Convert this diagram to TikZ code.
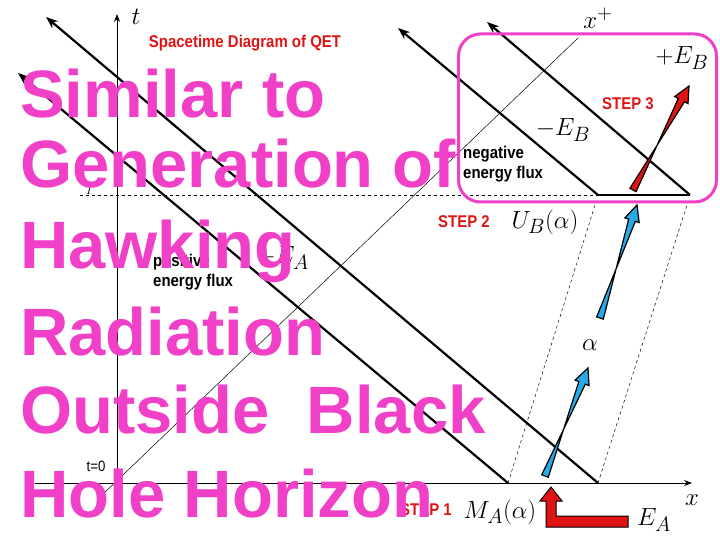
\documentclass[tikz,border=0pt]{standalone}
\usepackage{fontspec}
\setsansfont{Liberation Sans}
\newfontfamily\bigfont{Liberation Sans}
\newfontfamily\narrowfont[FakeStretch=0.88]{Liberation Sans}
\usetikzlibrary{arrows.meta,calc}
\definecolor{pinkt}{RGB}{240,64,200}
\definecolor{redt}{RGB}{225,20,20}
\definecolor{bluet}{RGB}{40,170,230}
\tikzset{
 thick line/.style={line width=2.2pt,-{Stealth[length=12pt,width=9pt]}},
 big/.style={font=\bigfont\bfseries\fontsize{67}{67}\selectfont,text=pinkt,anchor=base west,inner sep=0},
 redlab/.style={font=\narrowfont\bfseries\fontsize{17}{17}\selectfont,text=redt},
 blklab/.style={font=\narrowfont\bfseries\fontsize{17}{20}\selectfont,align=left,anchor=north west,inner sep=0},
 mlab/.style={font=\fontsize{28}{28}\selectfont},
 blockarrow/.style={draw=black,line width=1.2pt},
}
\newcommand\blockarr[3]{%
 \coordinate (hb) at ($(#2)!16pt!(#1)$);
 \filldraw[blockarrow,fill=#3] ($(#1)!3.5pt!90:(#2)$) -- ($(hb)!3.5pt!-90:(#2)$) -- ($(hb)!7.5pt!-90:(#2)$) -- (#2) -- ($(hb)!7.5pt!90:(#2)$) -- ($(hb)!3.5pt!90:(#2)$) -- ($(#1)!3.5pt!-90:(#2)$) -- cycle;}
\begin{document}
\begin{tikzpicture}[x=1pt,y=-1pt]
\useasboundingbox (0,0) rectangle (720,540);
% axes
\coordinate (o1) at (117,487);
\coordinate (ttop) at (117,14);
\coordinate (xl) at (35,483);
\coordinate (xr) at (692,483);
\draw[line width=1pt,-{Stealth[length=8pt]}] (o1) -- (ttop);
\draw[line width=1pt,-{Stealth[length=8pt]}] (xl) -- (xr);
% thin x+ line
\coordinate (p1) at (100,497);
\coordinate (p2) at (578,38);
\draw[line width=0.5pt] (p1) -- (p2);
% dashed
\coordinate (d1) at (80,195);
\coordinate (a) at (508,483);
\coordinate (b) at (598,483);
\coordinate (c) at (598,195);
\coordinate (d) at (690,195);
\coordinate (a2) at (595,205);
\coordinate (b2) at (687,205);
\draw[dashed,line width=0.6pt] (d1) -- (c);
\draw[dashed,line width=0.5pt] (a) -- (a2);
\draw[dashed,line width=0.5pt] (b) -- (b2);
% thick diagonals
\coordinate (t1) at (18,73);
\coordinate (t2) at (46,17);
\coordinate (t3) at (398,28);
\coordinate (t4) at (487,22);
\draw[thick line] (a) -- (t1);
\draw[thick line] (b) -- (t2);
\draw[thick line] (c) -- (t3);
\draw[thick line] (d) -- (t4);
\draw[line width=2.5pt] (c) -- (d);
% pink box
\node[draw=pinkt,line width=3pt,rounded corners=22pt,minimum width=258pt,minimum height=168pt,inner sep=0] (box) at (587.5,118) {};
% block arrows
\coordinate (u1) at (545,476);
\coordinate (u2) at (588,368);
\coordinate (v1) at (600,318);
\coordinate (v2) at (637,205);
\coordinate (w1) at (633,190);
\coordinate (w2) at (689,86);
\blockarr{u1}{u2}{bluet}
\blockarr{v1}{v2}{bluet}
\blockarr{w1}{w2}{redt}
\draw[fill=redt,draw=black,line width=1pt] (546,527)--(546,501)--(540,501)--(551,487)--(562,501)--(556,501)--(556,516)--(628,516)--(628,527)--cycle;
% labels
\node[mlab] (tl) at (136,17) {$t$};
\node[mlab] (xpl) at (598,18) {$x^+$};
\node[mlab] (xlab) at (692,500) {$x$};
\node[redlab] (title) at (245,43) {Spacetime Diagram of QET};
\node[redlab] (s3) at (628,104) {STEP 3};
\node[redlab] (s2) at (464,222) {STEP 2};
\node[redlab] (s1) at (426,510) {STEP 1};
\node[mlab] (ebp) at (682,58) {$+E_B$};
\node[mlab] (ebm) at (563,130) {$-E_B$};
\node[mlab] (ub) at (545,222) {$U_B(\alpha)$};
\node[mlab] (al) at (590,345) {$\alpha$};
\node[mlab] (ma) at (500,512) {$M_A(\alpha)$};
\node[mlab] (ea) at (654,520) {$E_A$};
\node[mlab] (eap) at (283,258) {$+E_A$};
\node[blklab] (neg) at (463,146) {negative\\energy flux};
\node[blklab] (pos) at (153,254) {positive\\energy flux};
\node[font=\narrowfont\fontsize{15}{15}\selectfont] (t0) at (96,466) {t=0};
\node[font=\fontsize{13}{13}\selectfont] (T) at (90,190) {$T$};
% big pink text
\node[big] (l1) at (20,118) {Similar to};
\node[big] (l2) at (20,188) {Generation of};
\node[big] (l3) at (20,268) {Hawking};
\node[big] (l4) at (20,355) {Radiation};
\node[big] (l5) at (20,433) {Outside\ \ Black};
\node[big] (l6) at (20,517) {Hole Horizon};
\end{tikzpicture}
\end{document}
